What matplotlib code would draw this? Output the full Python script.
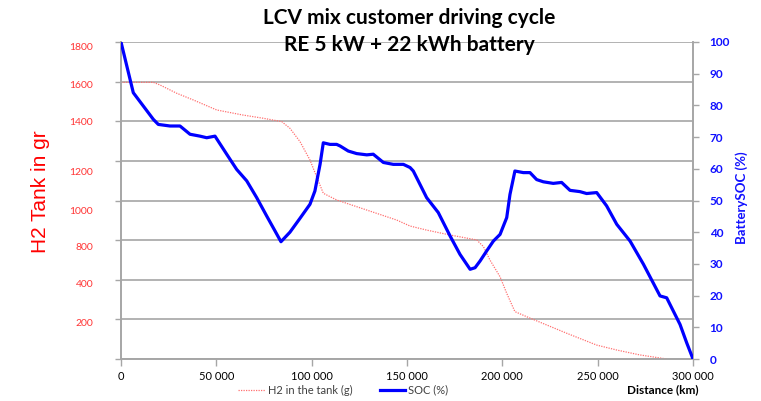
import matplotlib
matplotlib.use("Agg")
import matplotlib.pyplot as plt
from matplotlib.lines import Line2D
import numpy as np

# distance (km) / state of charge (%)
soc_km = [0, 6450, 11700, 16950, 19560, 25700, 30940, 36190, 41430, 44940, 49300,
          55440, 60680, 65930, 71170, 76420, 80770, 83900, 88600, 93900, 99100,
          101700, 104400, 106100, 109600, 113100, 114900, 119200, 123600, 128900,
          132300, 137600, 142800, 148100, 151600, 153300, 160300, 166400, 172600,
          177800, 183100, 185700, 188300, 191800, 195300, 198800, 202300, 204000,
          206600, 211000, 214500, 218000, 221500, 226700, 231100, 235500, 240700,
          244200, 249500, 254700, 260000, 267000, 274000, 282700, 286200, 293200,
          296700, 300000]
soc = [100, 84, 79.8, 75.6, 74.0, 73.5, 73.5, 70.9, 70.3, 69.8, 70.3,
       64.6, 59.8, 56.2, 50.9, 45.1, 40.4, 37.0, 40.0, 44.4, 48.8,
       53, 61.4, 68.2, 67.7, 67.7, 67.2, 65.6, 64.8, 64.4,
       64.6, 62, 61.4, 61.4, 60.4, 59.3, 50.9, 46.2, 38.8,
       33, 28.3, 28.8, 30.9, 34.1, 37.2, 39.3, 44.6, 51.9,
       59.3, 58.8, 58.8, 56.6, 55.9, 55.4, 55.7, 53.2, 52.8,
       52.2, 52.5, 48.3, 42.5, 37.2, 29.9, 19.9, 19.3, 10.9,
       5.1, 0]

# distance (km) / hydrogen left in the tank (g)
h2_km = [0, 16950, 20450, 29200, 37900, 50200, 64100, 74600, 84300, 88600, 93900,
         99100, 102600, 106100, 113100, 123600, 134100, 144600, 151600, 160300,
         172600, 186600, 190100, 193500, 198800, 202300, 206600, 212800, 223300,
         233800, 249500, 260000, 272200, 286200]
h2 = [1571, 1571, 1556, 1509, 1471, 1414, 1385, 1367, 1348, 1310, 1234,
      1130, 1035, 941, 903, 865, 827, 789, 755, 732,
      704, 676, 638, 562, 467, 373, 269, 240, 193,
      146, 79, 51, 23, 0]

x_ticks = [0, 50000, 100000, 150000, 200000, 250000, 300000]
x_labels = ["0", "50 000", "100 000", "150 000", "200 000", "250 000", "300 000"]
left_labels = ["1800", "1600", "1400", "1200", "1000", "800", "400", "200"]
soc_ticks = list(range(0, 101, 10))

plt.rcParams["font.family"] = ["Lato", "DejaVu Sans"]

fig = plt.figure(figsize=(7.61, 4.01), dpi=100)
ax = fig.add_axes([121/761, 1-359/401, 572/761, 317/401])
ax2 = ax.twinx()

grid_c = "#a6a6a6"
ax.set_xlim(0, 300000)
ax.set_ylim(0, 1800)
ax2.set_ylim(0, 100)

# gridlines on the left axis (8 bands), labels placed where the picture has them
ax.set_yticks(np.linspace(0, 1800, 9))
ax.set_yticklabels([])
label_pos = [1772, 1561, 1346, 1062, 846, 636, 426, 210]
ax.set_yticks(label_pos, left_labels, minor=True)
ax.tick_params(axis="y", which="minor", length=0, labelsize=7.5, labelcolor="#ff3535", pad=20)
ax.tick_params(axis="y", which="major", length=4, color=grid_c, width=1)
ax.grid(axis="y", color=grid_c, lw=1.2)
ax.set_axisbelow(True)

ax.set_xticks(x_ticks, x_labels)
ax.tick_params(axis="x", length=5, color=grid_c, width=1, labelsize=8, pad=4)

ax2.set_yticks(soc_ticks)
ax2.tick_params(axis="y", length=4, color=grid_c, width=1, labelsize=8.5,
                labelcolor="#1010ff", pad=8)
for lab in ax2.get_yticklabels():
    lab.set_fontweight("bold")

for a in (ax, ax2):
    a.spines["top"].set_visible(False)
    for s in ("left", "right", "bottom"):
        a.spines[s].set_color(grid_c)
        a.spines[s].set_linewidth(1.2)

ax.plot(h2_km, h2, color="#ff7070", lw=0.9, ls=(0, (1, 1)), zorder=3)
ax2.plot(soc_km, soc, color="#0000ff", lw=2.3, zorder=4)

fig.text(409/761, 1-18/401, "LCV mix customer driving cycle", ha="center", va="center",
         fontsize=15, fontweight="bold")
fig.text(409/761, 1-45/401, "RE 5 kW + 22 kWh battery", ha="center", va="center",
         fontsize=15, fontweight="bold")

fig.text(40/761, 1-192/401, "H2 Tank in gr", rotation=90, ha="center", va="center",
         fontsize=15, color="#ff0000", family="Liberation Sans")
fig.text(742/761, 1-198/401, "BatterySOC (%)", rotation=90, ha="center", va="center",
         fontsize=9.5, color="#1010ff", fontweight="bold")

# legend row
ly = 1 - 390/401
fig.add_artist(Line2D([238/761, 265/761], [ly, ly], color="#ff7070", lw=0.9, ls=(0, (1, 1))))
fig.text(268/761, ly, "H2 in the tank (g)", va="center", fontsize=8, color="#404040")
fig.add_artist(Line2D([380/761, 405/761], [ly, ly], color="#0000ff", lw=2.3))
fig.text(408/761, ly, "SOC (%)", va="center", fontsize=8, color="#404040")
fig.text(627/761, ly, "Distance (km)", va="center", fontsize=8.5, fontweight="bold")

fig.savefig("out.png", dpi=100)
